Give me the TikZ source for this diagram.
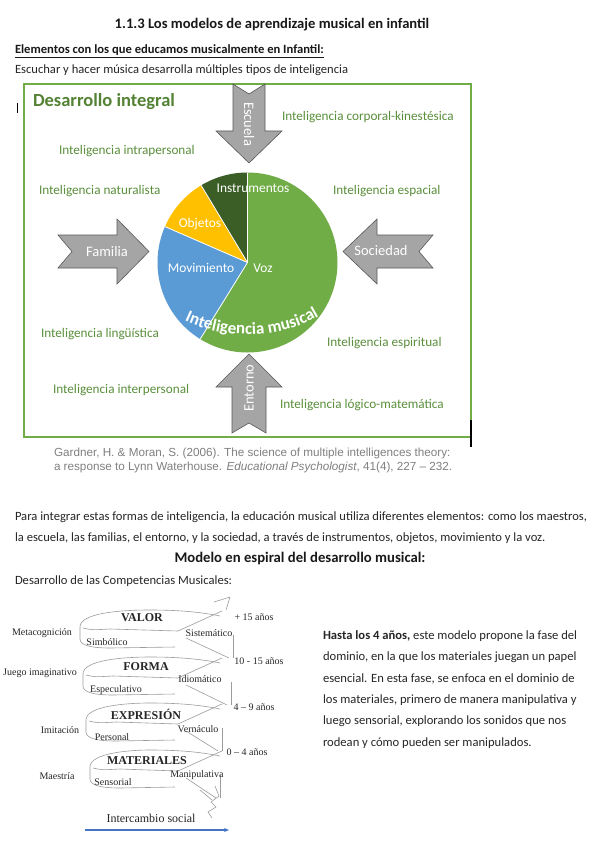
\documentclass[tikz,border=0pt]{standalone}
\usepackage{fontspec}
\setmainfont{Carlito}
\newfontfamily\arialf{Liberation Sans}
\newfontfamily\timesf{Liberation Serif}
\usetikzlibrary{decorations.text,arrows.meta}
\definecolor{boxgreen}{HTML}{70AD47}
\definecolor{darkgreen}{HTML}{548235}
\definecolor{labgreen}{HTML}{5A8F3C}
\definecolor{vozgreen}{HTML}{70AD47}
\definecolor{instgreen}{HTML}{3B5E27}
\definecolor{objyellow}{HTML}{FFC000}
\definecolor{movblue}{HTML}{5B9BD5}
\definecolor{arrowgray}{HTML}{A5A5A5}
\definecolor{citegray}{HTML}{808080}
\definecolor{bluearrow}{HTML}{4472C4}
\definecolor{spiralgray}{HTML}{9C9C9C}
\begin{document}
\begin{tikzpicture}[x=1pt,y=-1pt,
  every node/.style={inner sep=0pt,outer sep=0pt},
  body/.style={anchor=base west,font=\fontsize{12.6}{14}\selectfont,text=black!85},
  lab/.style={anchor=base west,font=\fontsize{13.2}{15}\selectfont,text=labgreen},
  blk/.style={fill=arrowgray,draw=black!65,line width=0.6pt},
  arrtxt/.style={text=white,font=\fontsize{14.5}{16}\selectfont},
  pietxt/.style={text=white,font=\fontsize{13.4}{15}\selectfont},
  cite/.style={anchor=base west,font=\arialf\fontsize{11.7}{13}\selectfont,text=citegray},
  sp/.style={draw=spiralgray,line width=0.6pt},
  tl/.style={font=\timesf\fontsize{10}{11}\selectfont,text=black!85},
  tb/.style={font=\timesf\bfseries\fontsize{12}{13}\selectfont,text=black!85}]
\useasboundingbox[fill=white] (0,0) rectangle (600,848);

% headings
\node[anchor=base,font=\bfseries\fontsize{14.6}{16}\selectfont,text=black!90] (title) at (272,29) {1.1.3 Los modelos de aprendizaje musical en infantil};
\node[anchor=base west,font=\bfseries\fontsize{12.6}{14}\selectfont,text=black!90] (elem) at (15,54) {\underline{Elementos con los que educamos musicalmente en Infantil:}};
\node[body] (escuchar) at (15,74) {Escuchar y hacer música desarrolla múltiples tipos de inteligencia};

% frame
\draw[boxgreen,line width=2pt] (24,84) rectangle (471,437);
\draw[black,line width=1pt] (17,103) -- (17,113);
\draw[black,line width=1.2pt] (471,420) -- (471,447);
\node[anchor=base west,font=\bfseries\fontsize{18.5}{20}\selectfont,text=darkgreen] (desint) at (33,107) {Desarrollo integral};

% pie
\coordinate (pc) at (247.5,262.5);
\fill[vozgreen] (pc) -- ++(-90:90) arc[start angle=-90,end angle=121.7,radius=90] -- cycle;
\fill[movblue] (pc) -- ++(121.7:90) arc[start angle=121.7,end angle=203.5,radius=90] -- cycle;
\fill[objyellow] (pc) -- ++(203.5:90) arc[start angle=203.5,end angle=239,radius=90] -- cycle;
\fill[instgreen] (pc) -- ++(239:90) arc[start angle=239,end angle=270,radius=90] -- cycle;
\foreach \a in {270,121.7,203.5,239} \draw[white,line width=0.8pt] (pc) -- ++(\a:90);
\node[pietxt] (instr) at (253,188) {Instrumentos};
\node[pietxt] (obj) at (200,224) {Objetos};
\node[pietxt] (mov) at (201,268) {Movimiento};
\node[pietxt] (voz) at (263,268) {Voz};
\coordinate (m1) at (172,314);
\coordinate (m2) at (216,342);
\coordinate (m3) at (287,342);
\coordinate (m4) at (331,308);
\path[decorate,decoration={text along path,text align=center,text color=white,
  text={|\bfseries\fontsize{17}{17}\selectfont|Inteligencia musical}}]
  (m1) .. controls (m2) and (m3) .. (m4);

% block arrows
\filldraw[blk] (233,84) -- (249,94) -- (265,84) -- (265,131) -- (282,131) -- (249,163) -- (216,131) -- (233,131) -- cycle;
\node[arrtxt,rotate=-90] (escuela) at (249,124) {Escuela};
\filldraw[blk] (58,235) -- (117,235) -- (117,219) -- (149,251.5) -- (117,284) -- (117,268) -- (58,268) -- (72,251.5) -- cycle;
\node[arrtxt] (familia) at (107,252) {Familia};
\filldraw[blk] (433,235) -- (377,235) -- (377,219) -- (343,251.5) -- (377,284) -- (377,268) -- (433,268) -- (419,251.5) -- cycle;
\node[arrtxt] (sociedad) at (381,251) {Sociedad};
\filldraw[blk] (249,354) -- (282,387) -- (266,387) -- (266,433) -- (249,423) -- (232,433) -- (232,387) -- (216,387) -- cycle;
\node[arrtxt,rotate=90] (entorno) at (249,388) {Entorno};

% intelligences
\node[lab] (i1) at (282,121) {Inteligencia corporal-kinestésica};
\node[lab] (i2) at (59,154) {Inteligencia intrapersonal};
\node[lab] (i3) at (39,194) {Inteligencia naturalista};
\node[lab] (i4) at (333,194) {Inteligencia espacial};
\node[lab] (i5) at (41,337) {Inteligencia lingüística};
\node[lab] (i6) at (327,346) {Inteligencia espiritual};
\node[lab] (i7) at (53,393) {Inteligencia interpersonal};
\node[lab] (i8) at (280,408) {Inteligencia lógico-matemática};

% citation
\node[cite] (c1) at (54,456) {Gardner, H. \& Moran, S. (2006). The science of multiple intelligences theory:};
\node[cite] (c2) at (54,470) {a response to Lynn Waterhouse. \textit{Educational Psychologist}, 41(4), 227 – 232.};

% paragraph
\node[body] (p1) at (15,520) {Para integrar estas formas de inteligencia, la educación musical utiliza diferentes elementos: como los maestros,};
\node[body] (p2) at (15,541) {la escuela, las familias, el entorno, y la sociedad, a través de instrumentos, objetos, movimiento y la voz.};
\node[anchor=base,font=\bfseries\fontsize{14.7}{16}\selectfont,text=black!90] (modelo) at (300,562) {Modelo en espiral del desarrollo musical:};
\node[body] (desc) at (15,584) {Desarrollo de las Competencias Musicales:};

% spiral ribbon
\foreach \yt/\xl/\xv in {610/80/233,657/83/231,703/86/222,750/90/220}{
  \draw[sp] (\xl,\yt+17) .. controls (\xl,\yt+3) and (\xl+40,\yt) .. (150,\yt) .. controls (185,\yt) and (205,\yt+3) .. (220,\yt+6);
  \draw[sp] (\xl+3,\yt+18) .. controls (\xl+12,\yt+20) .. (\xl+30,\yt+19) -- (178,\yt+21) -- (222,\yt+1);
  \draw[sp] (\xl,\yt+17) -- (\xl,\yt+29) .. controls (\xl,\yt+35) and (\xl+10,\yt+38) .. (\xl+30,\yt+38) -- (175,\yt+37);
  \draw[sp] (186,\yt+28) -- (\xv-4,\yt+48);
  \draw[sp] (\xv,\yt+25) -- (\xv,\yt+48);
}
\draw[sp] (214,602) -- (230,597) -- (226,610);
\draw[sp] (215,786) -- (219,796) -- (211,802) -- (216,807) -- (208,812) -- (212,818);
\draw[sp] (200,790) -- (212,800);

% spiral labels
\node[tb] (valor) at (142,618) {VALOR};
\node[tl] (simb) at (107,642) {Simbólico};
\node[tl] (sist) at (209,633) {Sistemático};
\node[tl] (meta) at (42,633) {Metacognición};
\node[tb] (forma) at (146,667) {FORMA};
\node[tl] (idio) at (200,679) {Idiomático};
\node[tl] (espec) at (116,690) {Especulativo};
\node[tl] (juego) at (40,673) {Juego imaginativo};
\node[tb] (expr) at (146,714) {EXPRESIÓN};
\node[tl] (vern) at (198,729) {Vernáculo};
\node[tl] (pers) at (112,737) {Personal};
\node[tl] (imit) at (60,730) {Imitación};
\node[tb] (mater) at (147,761) {MATERIALES};
\node[tl] (manip) at (197,775) {Manipulativa};
\node[tl] (sens) at (113,782) {Sensorial};
\node[tl] (maes) at (57,776) {Maestría};
\node[tl] (a1) at (254,617) {+ 15 años};
\node[tl] (a2) at (259,661) {10 - 15 años};
\node[tl] (a3) at (254,707) {4 – 9 años};
\node[tl] (a4) at (247,752) {0 – 4 años};
\node[font=\timesf\fontsize{12}{13}\selectfont,text=black!85] (inter) at (151,818) {Intercambio social};
\coordinate (ba) at (85,830);
\coordinate (bb) at (229,830);
\draw[bluearrow,line width=1.3pt,-{Stealth[length=5pt,width=4pt]}] (ba) -- (bb);

% right paragraph
\node[body] (r1) at (323,639) {\textbf{Hasta los 4 años,} este modelo propone la fase del};
\node[body] (r2) at (323,660.5) {dominio, en la que los materiales juegan un papel};
\node[body] (r3) at (323,682) {esencial. En esta fase, se enfoca en el dominio de};
\node[body] (r4) at (323,703) {los materiales, primero de manera manipulativa y};
\node[body] (r5) at (323,724.5) {luego sensorial, explorando los sonidos que nos};
\node[body] (r6) at (323,746) {rodean y cómo pueden ser manipulados.};
\end{tikzpicture}
\end{document}
